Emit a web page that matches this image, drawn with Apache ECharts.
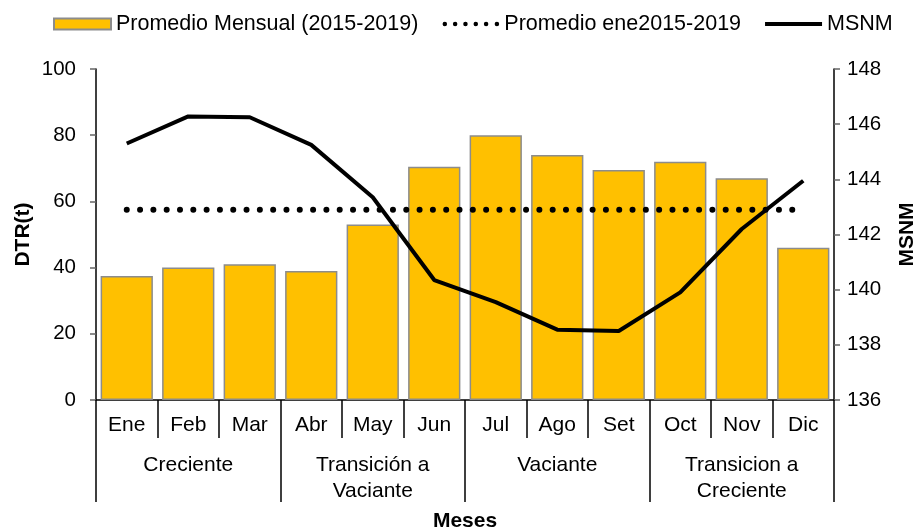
<!DOCTYPE html>
<html>
<head>
<meta charset="utf-8">
<script src="https://cdn.jsdelivr.net/npm/echarts@6/dist/echarts.min.js"></script>
<style>
  html, body { margin: 0; padding: 0; background: #fff; }
  #chart { width: 918px; height: 527px; }
</style>
</head>
<body>
<div id="chart"></div>
<script>
// datos
var meses = ['Ene', 'Feb', 'Mar', 'Abr', 'May', 'Jun', 'Jul', 'Ago', 'Set', 'Oct', 'Nov', 'Dic'];
var periodos = ['Creciente', 'Transición a\nVaciante', 'Vaciante', 'Transicion a\nCreciente'];
var promedioMensual = [37.5, 40, 41, 39, 53, 70.5, 80, 74, 69.5, 72, 67, 46];
var promedioEne = [57.5, 57.5, 57.5, 57.5, 57.5, 57.5, 57.5, 57.5, 57.5, 57.5, 57.5, 57.5];
var msnm = [145.3, 146.28, 146.25, 145.25, 143.35, 140.35, 139.55, 138.55, 138.5, 139.9, 142.2, 143.95];

var fuente = 'Liberation Sans, Arial, sans-serif';

// iconos de leyenda (caja 58x11)
var iconPuntos = 'path://M0,0L0.01,0M58,11L57.99,11' +
  [2.5, 13, 23.5, 34, 44.5, 55.5].map(function (x) {
    return 'M' + (x - 2.3) + ',5.5a2.3,2.3 0 1,0 4.6,0a2.3,2.3 0 1,0 -4.6,0Z';
  }).join('');
var iconLinea = 'path://M0,0L0.01,0M0,3.5L58,3.5L58,7.5L0,7.5ZM58,11L57.99,11';

var chart = echarts.init(document.getElementById('chart'));

chart.setOption({
  animation: false,
  textStyle: { fontFamily: fuente },
  legend: {
    left: 48,
    top: 8,
    itemWidth: 57,
    itemHeight: 11,
    itemGap: 24,
    textStyle: { fontSize: 21.5, color: '#000', fontFamily: fuente },
    data: [
      { name: 'Promedio Mensual (2015-2019)', icon: 'rect' },
      { name: 'Promedio ene2015-2019', icon: iconPuntos },
      { name: 'MSNM', icon: iconLinea }
    ]
  },
  grid: { left: 96, right: 84, top: 69, bottom: 127, outerBoundsMode: 'none' },
  xAxis: [
    {
      type: 'category',
      data: meses,
      axisLine: { lineStyle: { color: '#000', width: 1.5 } },
      axisTick: { show: true, length: 38, lineStyle: { color: '#000', width: 1.5 } },
      axisLabel: { interval: 0, margin: 15, fontSize: 21, color: '#000' }
    },
    {
      type: 'category',
      data: periodos,
      position: 'bottom',
      axisLine: { show: false },
      axisTick: { show: true, length: 102, lineStyle: { color: '#000', width: 1.5 } },
      axisLabel: { interval: 0, margin: 52, fontSize: 21, lineHeight: 26, color: '#000' },
      name: 'Meses',
      nameLocation: 'middle',
      nameGap: 111,
      nameMoveOverlap: false,
      nameTextStyle: { fontSize: 21, fontWeight: 'bold', color: '#000' }
    }
  ],
  yAxis: [
    {
      type: 'value',
      min: 0,
      max: 100,
      interval: 20,
      name: 'DTR(t)',
      nameLocation: 'middle',
      nameGap: 62,
      nameMoveOverlap: false,
      nameTextStyle: { fontSize: 21, fontWeight: 'bold', color: '#000' },
      axisLine: { show: true, lineStyle: { color: '#000', width: 1.5 } },
      axisTick: { show: true, length: 6, lineStyle: { color: '#666', width: 1.5 } },
      axisLabel: { margin: 20, fontSize: 20.5, color: '#000' },
      splitLine: { show: false }
    },
    {
      type: 'value',
      min: 136,
      max: 148,
      interval: 2,
      position: 'right',
      name: 'MSNM',
      nameLocation: 'middle',
      nameGap: 63,
      nameMoveOverlap: false,
      nameTextStyle: { fontSize: 21, fontWeight: 'bold', color: '#000' },
      axisLine: { show: true, lineStyle: { color: '#000', width: 1.5 } },
      axisTick: { show: true, length: 6, lineStyle: { color: '#666', width: 1.5 } },
      axisLabel: { margin: 13, fontSize: 20.5, color: '#000' },
      splitLine: { show: false }
    }
  ],
  series: [
    {
      name: 'Promedio Mensual (2015-2019)',
      type: 'bar',
      data: promedioMensual,
      barCategoryGap: '15%',
      itemStyle: { color: '#FFC000', borderColor: '#8c8c8c', borderWidth: 1.5 }
    },
    {
      name: 'Promedio ene2015-2019',
      type: 'line',
      data: promedioEne,
      symbol: 'none',
      itemStyle: { color: '#000' },
      lineStyle: { color: '#000', width: 6, type: [0.01, 13.3], cap: 'round' }
    },
    {
      name: 'MSNM',
      type: 'line',
      yAxisIndex: 1,
      data: msnm,
      symbol: 'none',
      itemStyle: { color: '#000' },
      lineStyle: { color: '#000', width: 4 }
    }
  ]
});
</script>
</body>
</html>
